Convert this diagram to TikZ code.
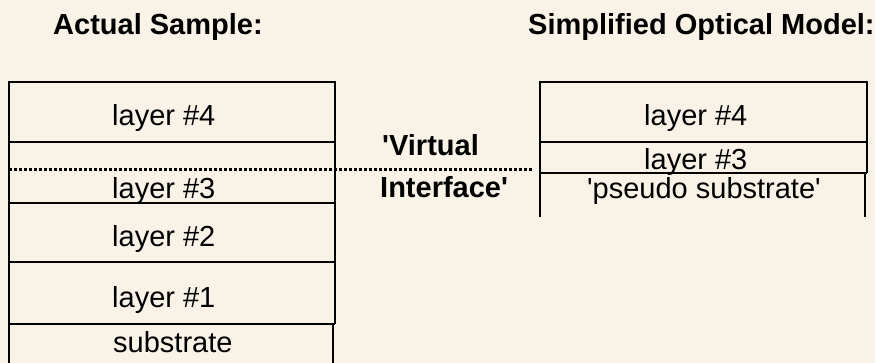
\documentclass[tikz,border=0pt]{standalone}
\usepackage{fontspec}
\newfontfamily\arial{Liberation Sans}
\usetikzlibrary{positioning}
\definecolor{paper}{RGB}{248,242,231}
\tikzstyle{wall} = [line width=2pt,draw=black]
\tikzstyle{layertext} = [font=\arial\fontsize{29}{32}\selectfont, inner sep=0pt, anchor=base west]
\tikzstyle{heading} = [layertext, font=\arial\bfseries\fontsize{29}{32}\selectfont]
\tikzstyle{virtual} = [line width=3pt, dash pattern=on 3pt off 2pt]

\begin{document}
\begin{tikzpicture}[x=1pt, y=-1pt]
    \fill[paper] (0,0) rectangle (875,363);
    \useasboundingbox (0,0) rectangle (875,363);

    \node (actual) [heading] at (53,35) {Actual Sample:};
    \node (model) [heading] at (528,35) {Simplified Optical Model:};

    % actual sample stack
    \draw[wall] (9,363) -- (9,82) -- (335,82) -- (335,324);
    \draw[wall] (333,324) -- (333,363);
    \foreach \y in {142,203,262,324}
        \draw[wall] (9,\y) -- (335,\y);

    \node (a4) [layertext] at (112,126) {layer \#4};
    \node (a3) [layertext] at (112,199) {layer \#3};
    \node (a2) [layertext] at (112,247) {layer \#2};
    \node (a1) [layertext] at (112,307) {layer \#1};
    \node (sub) [layertext] at (113,352) {substrate};

    % simplified model
    \draw[wall] (540,217) -- (540,82) -- (867,82) -- (867,173);
    \draw[wall] (865,173) -- (865,217);
    \draw[wall] (540,142) -- (867,142);
    \draw[wall] (540,173) -- (867,173);

    \node (m4) [layertext] at (644,126) {layer \#4};
    \node (m3) [layertext] at (644,170) {layer \#3};
    \node (pseudo) [layertext] at (587,199) {'pseudo substrate'};

    % virtual interface
    \coordinate (vleft) at (9,170);
    \coordinate (vright) at (533,170);
    \draw[virtual] (vleft) -- (vright);
    \node (vtop) [heading] at (382,156) {'Virtual};
    \node (vbot) [heading] at (380,198) {Interface'};
\end{tikzpicture}
\end{document}
